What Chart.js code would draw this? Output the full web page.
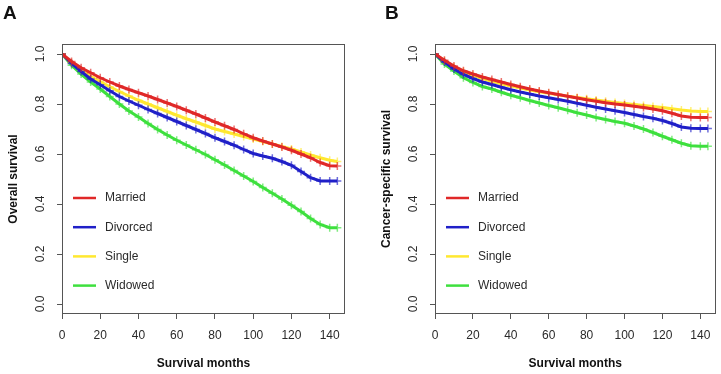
<!DOCTYPE html>
<html><head><meta charset="utf-8">
<script src="https://cdn.jsdelivr.net/npm/chart.js@4.4.1/dist/chart.umd.min.js"></script>
<style>
html,body{margin:0;padding:0;background:#fff;width:721px;height:374px;overflow:hidden}
canvas{position:absolute;top:0}
#cA{left:0}
#cB{left:360px}
</style></head><body>
<canvas id="cA" width="360" height="374"></canvas>
<canvas id="cB" width="361" height="374"></canvas>
<script>
// ---- data ----
const groups = ['Married','Divorced','Single','Widowed'];
const groupColors = ['#e02828','#2020c8','#ffe830','#3ee03e'];
const months = [0,5,10,15,20,25,30,35,40,45,50,55,60,65,70,75,80,85,90,95,100,105,110,115,120,125,130,135,140,144];

// Panel A: Overall survival
const osMarried  = [1.0,0.970,0.945,0.925,0.905,0.888,0.872,0.858,0.845,0.832,0.818,0.804,0.790,0.775,0.760,0.744,0.728,0.713,0.698,0.681,0.665,0.652,0.640,0.628,0.615,0.600,0.585,0.566,0.553,0.552];
const osDivorced = [1.0,0.962,0.930,0.900,0.877,0.853,0.830,0.812,0.795,0.778,0.762,0.746,0.730,0.714,0.698,0.682,0.665,0.650,0.635,0.618,0.602,0.592,0.583,0.570,0.555,0.530,0.505,0.492,0.492,0.492];
const osSingle   = [1.0,0.965,0.935,0.910,0.890,0.869,0.850,0.832,0.815,0.800,0.785,0.770,0.755,0.741,0.728,0.714,0.700,0.690,0.680,0.670,0.660,0.650,0.640,0.630,0.620,0.608,0.596,0.585,0.575,0.570];
const osWidowed  = [1.0,0.955,0.920,0.888,0.860,0.830,0.800,0.772,0.748,0.722,0.698,0.676,0.655,0.636,0.617,0.598,0.577,0.556,0.534,0.512,0.490,0.466,0.443,0.420,0.395,0.370,0.342,0.318,0.305,0.305];

// Panel B: Cancer-specific survival
const cssMarried  = [1.0,0.975,0.952,0.933,0.920,0.908,0.898,0.888,0.878,0.869,0.860,0.852,0.845,0.838,0.831,0.824,0.817,0.811,0.805,0.800,0.796,0.791,0.786,0.780,0.773,0.763,0.752,0.747,0.746,0.746];
const cssDivorced = [1.0,0.968,0.940,0.918,0.902,0.888,0.878,0.867,0.857,0.848,0.840,0.832,0.825,0.818,0.811,0.803,0.795,0.787,0.780,0.773,0.766,0.758,0.750,0.743,0.734,0.722,0.708,0.703,0.702,0.702];
const cssSingle   = [1.0,0.972,0.948,0.930,0.915,0.902,0.891,0.881,0.872,0.864,0.856,0.849,0.843,0.837,0.831,0.826,0.821,0.816,0.811,0.806,0.802,0.798,0.794,0.790,0.786,0.781,0.776,0.772,0.770,0.770];
const cssWidowed  = [1.0,0.960,0.932,0.905,0.886,0.870,0.860,0.847,0.835,0.825,0.814,0.804,0.794,0.785,0.775,0.765,0.756,0.746,0.738,0.730,0.723,0.712,0.700,0.686,0.671,0.657,0.643,0.633,0.631,0.631];

const xTicks = [0,20,40,60,80,100,120,140];
const yTicks = [0.0,0.2,0.4,0.6,0.8,1.0];
const xTitle = 'Survival months';

// ---- drawing ----
const FONT = '"Liberation Sans", Arial, Helvetica, sans-serif';
const AXIS = '#555';
const TEXT = '#2a2a2a';

function rgba(hex, a){
  const n = parseInt(hex.slice(1),16);
  return `rgba(${(n>>16)&255},${(n>>8)&255},${n&255},${a})`;
}

const decor = {
  id:'decor',
  afterDraw(chart, args, opts){
    const ctx = chart.ctx, ca = chart.chartArea, ys = chart.scales.y;
    ctx.save();
    ctx.strokeStyle = AXIS; ctx.lineWidth = 1;
    const l = Math.round(ca.left)+0.5, t = Math.round(ca.top)+0.5,
          r = Math.round(ca.right)-0.5, b = Math.round(ca.bottom)-0.5;
    ctx.strokeRect(l, t, r-l, b-t);
    ctx.fillStyle = TEXT;
    ctx.font = '12px ' + FONT;
    ctx.textAlign = 'center'; ctx.textBaseline = 'middle';
    yTicks.forEach(v=>{
      const py = ys.getPixelForValue(v);
      ctx.save();
      ctx.translate(ca.left - 21, py);
      ctx.rotate(-Math.PI/2);
      ctx.fillText(v.toFixed(1), 0, 0);
      ctx.restore();
    });
    ctx.textAlign = 'left';
    chart.data.datasets.forEach((ds,i)=>{
      const y = ca.top + 154 + i*29.2;
      ctx.strokeStyle = ds.borderColor; ctx.lineWidth = 2.5;
      ctx.beginPath(); ctx.moveTo(ca.left+11, y); ctx.lineTo(ca.left+34, y); ctx.stroke();
      ctx.fillStyle = TEXT;
      ctx.fillText(ds.label, ca.left+43, y);
    });
    ctx.fillStyle = '#111';
    ctx.font = 'bold 19px ' + FONT;
    ctx.textAlign = 'left'; ctx.textBaseline = 'middle';
    ctx.fillText(opts.letter, opts.letterX, 14);
    ctx.restore();
  }
};

function makeChart(id, series, yTitle, letter, letterX, axisWidth, padRight, yTitlePad){
  const datasets = groups.map((g,i)=>({
    label: g,
    data: months.map((m,k)=>({x:m, y:series[i][k]})),
    borderColor: groupColors[i],
    backgroundColor: groupColors[i],
    borderWidth: 3,
    pointStyle: 'cross',
    pointRadius: 4,
    pointBorderWidth: 1.5,
    pointBorderColor: rgba(groupColors[i], 0.65),
    tension: 0
  }));
  return new Chart(document.getElementById(id), {
    type: 'line',
    data: { datasets },
    plugins: [decor],
    options: {
      responsive: false,
      animation: false,
      devicePixelRatio: 1,
      layout: { padding: { top: 44, left: 0, right: padRight, bottom: 0 } },
      plugins: {
        legend: { display: false },
        tooltip: { enabled: false },
        decor: { letter, letterX }
      },
      scales: {
        x: {
          type: 'linear', min: 0, max: 148,
          afterBuildTicks: s => { s.ticks = xTicks.map(v=>({value:v})); },
          afterFit: s => { s.height = 60; },
          grid: { drawOnChartArea: false, drawTicks: true, tickLength: 5, color: AXIS },
          border: { display: false },
          ticks: { color: TEXT, font: { family: FONT, size: 12 }, padding: 9, maxRotation: 0 },
          title: { display: true, text: xTitle, color: '#111', font: { family: FONT, size: 12, weight: 'bold' }, padding: { top: 0, bottom: 3 } }
        },
        y: {
          type: 'linear', min: -0.04, max: 1.04,
          afterBuildTicks: s => { s.ticks = yTicks.map(v=>({value:v})); },
          afterFit: s => { s.width = axisWidth; },
          grid: { drawOnChartArea: false, drawTicks: true, tickLength: 5, color: AXIS },
          border: { display: false },
          ticks: { color: 'rgba(0,0,0,0)', font: { family: FONT, size: 12 } },
          title: { display: true, text: yTitle, color: '#111', font: { family: FONT, size: 12, weight: 'bold' }, padding: { top: yTitlePad, bottom: 0 } }
        }
      }
    }
  });
}

makeChart('cA', [osMarried, osDivorced, osSingle, osWidowed], 'Overall survival', 'A', 3, 62, 15, 6);
makeChart('cB', [cssMarried, cssDivorced, cssSingle, cssWidowed], 'Cancer-specific survival', 'B', 25, 75, 4, 19);
</script>
</body></html>
